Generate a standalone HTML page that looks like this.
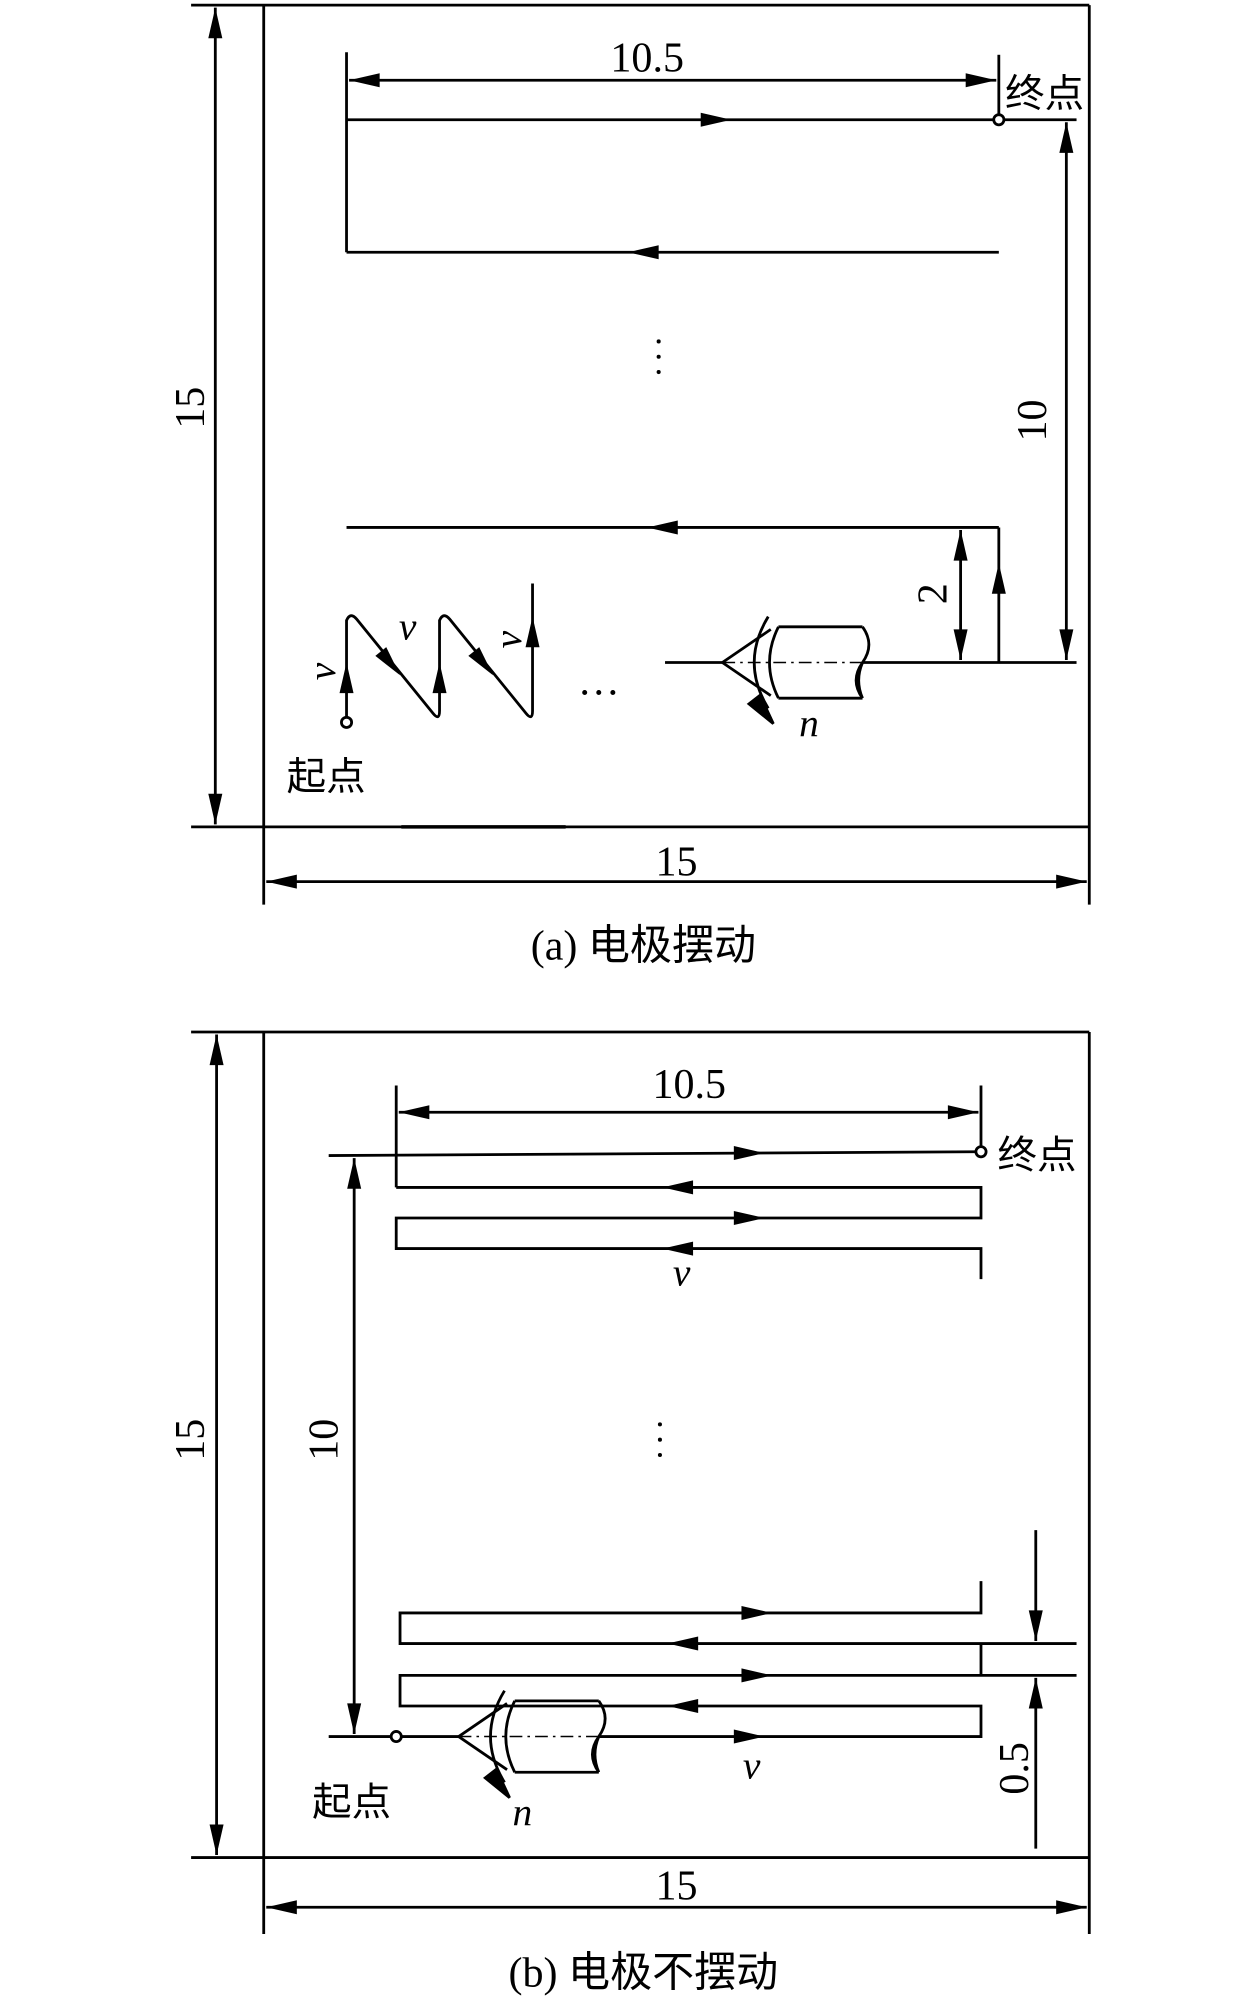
<!DOCTYPE html>
<html><head><meta charset="utf-8"><style>
html,body{margin:0;padding:0;background:#fff;}
svg{display:block;}
text{font-family:"Liberation Serif","Noto Serif CJK SC","Noto Sans CJK SC",serif;fill:#000;}
.cj{font-family:"Liberation Serif","Noto Sans CJK SC",sans-serif;}
</style></head><body>
<svg width="1260" height="1999" viewBox="0 0 989 1569" preserveAspectRatio="none" xmlns="http://www.w3.org/2000/svg">
<defs>
<path id="ah" d="M0,0 L-24,-5.5 L-24,5.5 Z" fill="#000"/>
<g id="elec" fill="none" stroke="#000" stroke-width="2.2">
  <line x1="0" y1="0" x2="38" y2="-26"/>
  <line x1="0" y1="0" x2="38" y2="26"/>
  <path d="M44,-28 L110,-28 M44,28 L110,28"/>
  <path d="M44,-28 Q30,0 44,28"/>
  <path d="M110,-28 Q120,-14 110,0 Q100,14 110,28"/>
  <path d="M110,0 Q104,14 110,28" />
  <path d="M36,-36 Q14,0 36,36"/>
  <line x1="0" y1="0" x2="110" y2="0" stroke-width="1.2" stroke-dasharray="10,4,2,4"/>
  <line x1="28" y1="32" x2="38" y2="44" stroke-width="2.4"/>
  <use href="#ah" transform="translate(40,48) rotate(52)"/>
</g>
</defs>
<g stroke="#000" stroke-width="2.2" fill="none">
<line x1="150" y1="4" x2="855" y2="4"/>
<line x1="207" y1="4" x2="207" y2="710"/>
<line x1="855" y1="4" x2="855" y2="710"/>
<line x1="150" y1="649" x2="855" y2="649"/>
<line x1="315" y1="649" x2="444" y2="649" stroke-width="2.8"/>
<line x1="169" y1="6" x2="169" y2="647"/>
<line x1="209" y1="692" x2="853" y2="692"/>
<line x1="272" y1="41" x2="272" y2="198"/>
<line x1="784" y1="43" x2="784" y2="90"/>
<line x1="274" y1="63" x2="782" y2="63"/>
<line x1="272" y1="94" x2="780" y2="94"/>
<line x1="788" y1="94" x2="845" y2="94"/>
<circle cx="784" cy="94" r="4"/>
<line x1="272" y1="198" x2="784" y2="198"/>
<line x1="837" y1="96" x2="837" y2="518"/>
<line x1="272" y1="414" x2="784" y2="414"/>
<line x1="784" y1="414" x2="784" y2="520"/>
<line x1="754" y1="416" x2="754" y2="518"/>
<line x1="677" y1="520" x2="845" y2="520"/>
<line x1="522" y1="520" x2="567" y2="520"/>
<circle cx="272" cy="567" r="4"/>
<path d="M272,563 L272,487 Q275,480 280,486 L340,560 Q345,566 345,558 L345,487 Q348,480 353,486 L413,560 Q418,566 418,558 L418,458"/>
<line x1="150" y1="810" x2="855" y2="810"/>
<line x1="207" y1="810" x2="207" y2="1518"/>
<line x1="855" y1="810" x2="855" y2="1518"/>
<line x1="150" y1="1458" x2="855" y2="1458"/>
<line x1="170" y1="812" x2="170" y2="1456"/>
<line x1="209" y1="1497" x2="853" y2="1497"/>
<line x1="311" y1="852" x2="311" y2="932"/>
<line x1="770" y1="852" x2="770" y2="900"/>
<line x1="313" y1="873" x2="768" y2="873"/>
<line x1="258" y1="907" x2="766" y2="904"/>
<circle cx="770" cy="904" r="4"/>
<path d="M311,932 L770,932 L770,956 L311,956 L311,980 L770,980 L770,1004"/>
<line x1="278" y1="909" x2="278" y2="1361"/>
<path d="M770,1241 L770,1266 L314,1266 L314,1290 L845,1290"/>
<path d="M845,1315 L314,1315 L314,1339 L770,1339 L770,1363 L470,1363"/>
<line x1="770" y1="1290" x2="770" y2="1315"/>
<line x1="258" y1="1363" x2="307" y2="1363"/>
<circle cx="311" cy="1363" r="4"/>
<line x1="315" y1="1363" x2="360" y2="1363"/>
<line x1="813" y1="1201" x2="813" y2="1288"/>
<line x1="813" y1="1317" x2="813" y2="1451"/>
</g>
<use href="#elec" transform="translate(567,520)"/>
<use href="#elec" transform="translate(360,1363)"/>
<g>
<use href="#ah" transform="translate(169,6) rotate(-90)"/>
<use href="#ah" transform="translate(169,647) rotate(90)"/>
<use href="#ah" transform="translate(209,692) rotate(180)"/>
<use href="#ah" transform="translate(853,692)"/>
<use href="#ah" transform="translate(274,63) rotate(180)"/>
<use href="#ah" transform="translate(782,63)"/>
<use href="#ah" transform="translate(574,94)"/>
<use href="#ah" transform="translate(493,198) rotate(180)"/>
<use href="#ah" transform="translate(837,96) rotate(-90)"/>
<use href="#ah" transform="translate(837,518) rotate(90)"/>
<use href="#ah" transform="translate(508,414) rotate(180)"/>
<use href="#ah" transform="translate(784,442) rotate(-90)"/>
<use href="#ah" transform="translate(754,416) rotate(-90)"/>
<use href="#ah" transform="translate(754,518) rotate(90)"/>
<use href="#ah" transform="translate(272,520) rotate(-90)"/>
<use href="#ah" transform="translate(345,520) rotate(-90)"/>
<use href="#ah" transform="translate(418,484) rotate(-90)"/>
<use href="#ah" transform="translate(314,530) rotate(51)"/>
<use href="#ah" transform="translate(387,530) rotate(51)"/>
<use href="#ah" transform="translate(170,812) rotate(-90)"/>
<use href="#ah" transform="translate(170,1456) rotate(90)"/>
<use href="#ah" transform="translate(209,1497) rotate(180)"/>
<use href="#ah" transform="translate(853,1497)"/>
<use href="#ah" transform="translate(313,873) rotate(180)"/>
<use href="#ah" transform="translate(768,873)"/>
<use href="#ah" transform="translate(600,905)"/>
<use href="#ah" transform="translate(520,932) rotate(180)"/>
<use href="#ah" transform="translate(600,956)"/>
<use href="#ah" transform="translate(520,980) rotate(180)"/>
<use href="#ah" transform="translate(278,909) rotate(-90)"/>
<use href="#ah" transform="translate(278,1361) rotate(90)"/>
<use href="#ah" transform="translate(606,1266)"/>
<use href="#ah" transform="translate(524,1290) rotate(180)"/>
<use href="#ah" transform="translate(606,1315)"/>
<use href="#ah" transform="translate(524,1339) rotate(180)"/>
<use href="#ah" transform="translate(600,1363)"/>
<use href="#ah" transform="translate(813,1288) rotate(90)"/>
<use href="#ah" transform="translate(813,1317) rotate(-90)"/>
</g>
<g fill="#000">
<circle cx="517" cy="268" r="1.6"/><circle cx="517" cy="280" r="1.6"/><circle cx="517" cy="292" r="1.6"/>
<circle cx="518" cy="1118" r="1.6"/><circle cx="518" cy="1130" r="1.6"/><circle cx="518" cy="1142" r="1.6"/>
</g>
<g font-size="33">
<text x="508" y="56" text-anchor="middle">10.5</text>
<text x="531" y="687" text-anchor="middle">15</text>
<text transform="translate(160,320) rotate(-90)" text-anchor="middle">15</text>
<text transform="translate(821,330) rotate(-90)" text-anchor="middle">10</text>
<text transform="translate(743,466) rotate(-90)" text-anchor="middle">2</text>
<text x="470" y="545" text-anchor="middle">…</text>
<text x="541" y="862" text-anchor="middle">10.5</text>
<text x="531" y="1491" text-anchor="middle">15</text>
<text transform="translate(160,1130) rotate(-90)" text-anchor="middle">15</text>
<text transform="translate(265,1130) rotate(-90)" text-anchor="middle">10</text>
<text transform="translate(807,1388) rotate(-90)" text-anchor="middle">0.5</text>
</g>
<g font-size="31" font-style="italic">
<text transform="translate(263,527) rotate(-90)" text-anchor="middle">v</text>
<text x="320" y="502" text-anchor="middle">v</text>
<text transform="translate(409,502) rotate(-90)" text-anchor="middle">v</text>
<text x="635" y="578" text-anchor="middle">n</text>
<text x="535" y="1009" text-anchor="middle">v</text>
<text x="590" y="1396" text-anchor="middle">v</text>
<text x="410" y="1433" text-anchor="middle">n</text>
</g>
<g class="cj" font-size="31">
<text x="789" y="84" class="cj">终点</text>
<text x="225" y="620" class="cj">起点</text>
<text x="783" y="917" class="cj">终点</text>
<text x="245" y="1425" class="cj">起点</text>
</g>
<g class="cj" font-size="33">
<text x="505" y="753" text-anchor="middle" class="cj">(a) 电极摆动</text>
<text x="505" y="1559" text-anchor="middle" class="cj">(b) 电极不摆动</text>
</g>
</svg>
</body></html>
